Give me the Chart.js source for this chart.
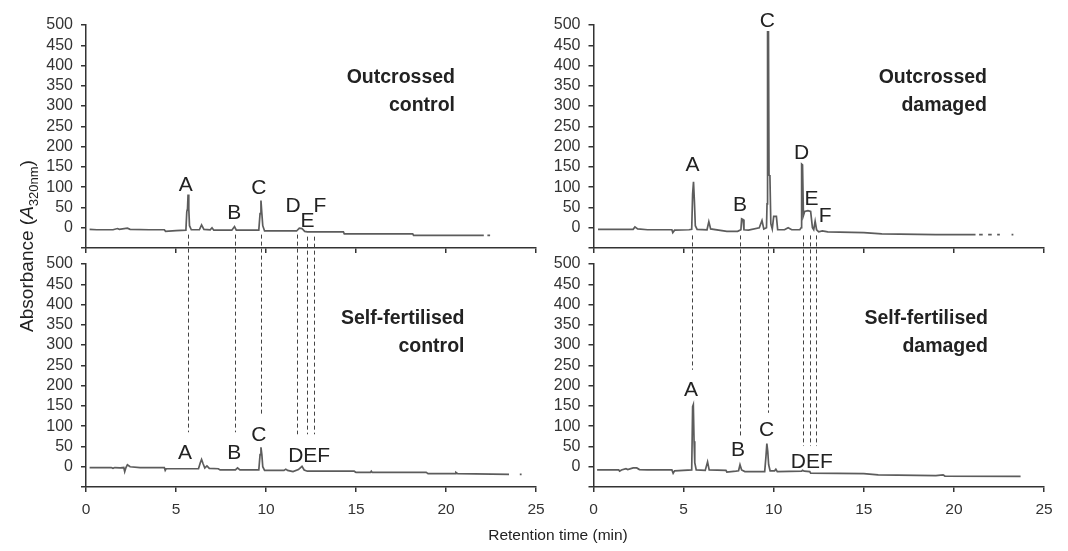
<!DOCTYPE html>
<html>
<head>
<meta charset="utf-8">
<title>HPLC chromatograms</title>
<script src="https://cdn.jsdelivr.net/npm/chart.js@4.4.1/dist/chart.umd.min.js"></script>
<style>
    html, body { margin: 0; padding: 0; background: #fff; }
    #wrap { position: relative; width: 1068px; height: 551px; overflow: hidden; }
    #wrap canvas { position: absolute; left: 0; top: 0; }
</style>
</head>
<body>
<div id="wrap">
    <canvas id="ocControl" width="1068" height="551"></canvas>
    <canvas id="ocDamaged" width="1068" height="551"></canvas>
    <canvas id="sfControl" width="1068" height="551"></canvas>
    <canvas id="sfDamaged" width="1068" height="551"></canvas>
</div>
<script>
// axis ticks
const timeTicks = [0, 5, 10, 15, 20, 25];
const absTicks = [-50, 0, 50, 100, 150, 200, 250, 300, 350, 400, 450, 500];

// Outcrossed control trace (min, A320)
const ocControlTime = [0.2, 0.6, 1.0, 1.5, 1.75, 1.85, 2.3, 2.45, 3.5, 4.35, 4.42, 5.0, 5.55, 5.6, 5.64, 5.67, 5.71, 5.75, 5.85,
    6.3, 6.42, 6.55, 6.9, 7.0, 7.1, 8.1, 8.25, 8.35, 9.3, 9.6, 9.67, 9.72, 9.77, 9.82, 9.92,
    11.7, 11.85, 12.0, 12.15, 12.3, 14.3, 14.35, 18.15, 18.2, 22.1, 22.15, 22.3, 22.45];
const ocControlAbs = [-4, -5, -5, -5, -2, -4, -1, -4, -5, -5, -9, -7, -6, 40, 47, 82, 47, 5, -5,
    -5, 7, -4, -5, 0, -6, -6, 3, -6, -6, -6, 35, 67, 35, 5, -8,
    -8, -1, -2, -9, -10, -10, -15, -15, -19, -19, null, -19, -19];

// Outcrossed damaged trace
const ocDamagedTime = [0.25, 1.5, 2.2, 2.3, 2.45, 3.0, 4.35, 4.4, 4.5, 5.3, 5.45, 5.5, 5.55, 5.6, 5.65, 5.75,
    6.3, 6.4, 6.5, 7.4, 8.0, 8.18, 8.22, 8.3, 8.35, 8.6, 9.2, 9.35, 9.45, 9.6, 9.63, 9.66, 9.71, 9.74, 9.79, 9.84, 9.92,
    10.0, 10.15, 10.22, 10.6, 10.8, 11.0, 11.45, 11.52, 11.55, 11.6, 11.65, 11.72, 11.9, 12.05, 12.15, 12.22, 12.3, 12.38,
    12.5, 12.7, 13.0, 15.0, 16.0, 19.0, 21.2, 21.25, 21.4, 21.6, 21.65, 21.9, 22.1, 22.15, 22.4, 22.55, 22.6, 23.2, 23.3];
const ocDamagedAbs = [-4, -4, -4, 2, -3, -5, -5, -12, -6, -5, -4, 83, 113, 65, 5, -4,
    -5, 15, -3, -9, -9, -5, 22, 20, -5, -6, 0, 18, -3, 0, 59, 483, 483, 130, 128, 10, -3,
    28, 28, -5, -5, 0, -5, -5, 0, 157, 155, 30, 40, 42, 40, 0, -5, 16, -5,
    -10, -8, -10, -12, -15, -17, -17, null, -17, -17, null, -17, -17, null, -17, -17, null, -17, -17];

// Self-fertilised control trace
const sfControlTime = [0.2, 1.4, 1.5, 1.6, 1.9, 2.1, 2.15, 2.22, 2.3, 2.45, 3.0, 4.35, 4.4, 4.45,
    6.25, 6.35, 6.42, 6.5, 6.6, 6.72, 6.85, 7.35, 7.45, 8.3, 8.42, 8.55, 9.6, 9.67, 9.72, 9.77, 9.82, 9.92,
    11.0, 11.1, 11.2, 11.5, 11.8, 12.0, 12.12, 12.3, 14.9, 15.0, 15.8, 15.85, 15.9, 18.9, 19.0,
    20.5, 20.55, 20.65, 23.5, 23.55, 23.8, 23.85, 24.1, 24.2];
const sfControlAbs = [-2, -2, -4, -2, -3, -2, -12, -2, 5, 0, -2, -2, -9, -5,
    -5, 10, 18, 8, -3, 2, -4, -5, -8, -8, -3, -8, -8, 30, 48, 30, 0, -9,
    -9, -6, -9, -12, -7, 1, -8, -11, -11, -14, -14, -11, -14, -14, -17,
    -17, -14, -17, -19, null, -19, null, -19, -19];

// Self-fertilised damaged trace
const sfDamagedTime = [0.2, 1.4, 1.45, 1.55, 1.8, 1.9, 2.2, 2.4, 2.55, 3.0, 4.35, 4.42, 4.5, 5.45, 5.5, 5.54, 5.58, 5.62, 5.7,
    6.2, 6.33, 6.42, 7.35, 7.4, 7.9, 8.05, 8.13, 8.22, 8.4, 9.5, 9.57, 9.62, 9.67, 9.72, 9.8,
    10.05, 10.12, 10.2, 11.55, 11.6, 11.7, 12.0, 12.05, 15.0, 15.8, 19.0, 19.4, 19.5, 23.7];
const sfDamagedAbs = [-8, -8, -11, -8, -5, -7, -3, -3, -7, -8, -8, -16, -10, -8, 148, 153, 63, 10, -8,
    -9, 12, -8, -9, -13, -11, -10, 5, -8, -12, -12, 25, 57, 38, 5, -10,
    -10, -6, -12, -11, -9, -11, -12, -16, -17, -20, -22, -20, -23, -24];

// peak letters (time, absorbance of the letter baseline)
const ocControlPeaks = ['A', 'B', 'C', 'D', 'E', 'F'];
const ocControlPeakTime = [5.54, 8.23, 9.6, 11.5, 12.3, 13.0];
const ocControlPeakAbs = [90, 22, 82, 40, 1, 40];
const ocDamagedPeaks = ['A', 'B', 'C', 'D', 'E', 'F'];
const ocDamagedPeakTime = [5.5, 8.13, 9.65, 11.55, 12.1, 12.85];
const ocDamagedPeakAbs = [139, 42, 494, 169, 55, 14];
const sfControlPeaks = ['A', 'B', 'C', 'DEF'];
const sfControlPeakTime = [5.5, 8.24, 9.6, 12.4];
const sfControlPeakAbs = [20, 18, 63, 12];
const sfDamagedPeaks = ['A', 'B', 'C', 'DEF'];
const sfDamagedPeakTime = [5.41, 8.02, 9.61, 12.11];
const sfDamagedPeakAbs = [174, 26, 75, -2];

// dashed links between upper and lower chromatograms
const controlLinkTime = [5.68, 8.29, 9.7, 11.7, 12.3, 12.67];
const controlLinkFrom = [-17, -17, -17, -17, -22, -22];
const controlLinkTo = [85, 85, 128, 80, 80, 80];
const damagedLinkTime = [5.47, 8.14, 9.7, 11.62, 11.99, 12.37];
const damagedLinkFrom = [-19, -19, -19, -19, -19, -19];
const damagedLinkTo = [239, 75, 133, 51, 51, 51];

const FONT = '"Liberation Sans", Arial, Helvetica, sans-serif';
const TEXT = '#222';
const AXIS = '#333';
const TRACE = '#5c5c5c';
const PAGE_W = 1068, PAGE_H = 551, AXIS_W = 40, XAXIS_H = 40;

const charts = {};

function toPoints(times, values) {
    return times.map((t, i) => ({ x: t, y: values[i] }));
}

function labelPlugin(names, times, abs, title, titleRight, titleTop) {
    return {
        id: 'peakLabels',
        afterDatasetsDraw(chart) {
            const { ctx, chartArea } = chart;
            const x = chart.scales.x, y = chart.scales.y;
            ctx.save();
            ctx.fillStyle = TEXT;
            ctx.textBaseline = 'alphabetic';
            ctx.textAlign = 'center';
            ctx.font = `21px ${FONT}`;
            names.forEach((n, i) => {
                ctx.fillText(n, x.getPixelForValue(times[i]), y.getPixelForValue(abs[i]));
            });
            ctx.textAlign = 'right';
            ctx.font = `bold 19.5px ${FONT}`;
            title.forEach((line, i) => {
                ctx.fillText(line, chartArea.left + titleRight, chartArea.top + titleTop + i * 27.5);
            });
            ctx.restore();
        }
    };
}

function linkPlugin(upperId, times, from, to) {
    return {
        id: 'peakLinks',
        afterDatasetsDraw(chart) {
            const upper = charts[upperId];
            if (!upper) return;
            const ctx = chart.ctx;
            ctx.save();
            ctx.strokeStyle = '#444';
            ctx.lineWidth = 1;
            ctx.setLineDash([4, 3]);
            times.forEach((t, i) => {
                const px = Math.round(chart.scales.x.getPixelForValue(t)) + 0.5;
                ctx.beginPath();
                ctx.moveTo(px, upper.scales.y.getPixelForValue(from[i]));
                ctx.lineTo(px, chart.scales.y.getPixelForValue(to[i]));
                ctx.stroke();
            });
            ctx.restore();
        }
    };
}

const figureTitles = {
    id: 'figureTitles',
    afterDraw(chart) {
        const ctx = chart.ctx;
        ctx.save();
        ctx.fillStyle = TEXT;
        ctx.textBaseline = 'alphabetic';
        ctx.textAlign = 'center';
        ctx.font = `15.5px ${FONT}`;
        ctx.fillText('Retention time (min)', 558, 540);

        // Absorbance (A320nm), rotated
        const parts = [
            { t: 'Absorbance (', f: `19px ${FONT}`, dy: 0 },
            { t: 'A', f: `italic 19px ${FONT}`, dy: 0 },
            { t: '320nm', f: `13px ${FONT}`, dy: 5 },
            { t: ')', f: `19px ${FONT}`, dy: 0 }
        ];
        let total = 0;
        parts.forEach(p => { ctx.font = p.f; p.w = ctx.measureText(p.t).width; total += p.w; });
        ctx.translate(33, 246);
        ctx.rotate(-Math.PI / 2);
        ctx.textAlign = 'left';
        let cx = -total / 2;
        parts.forEach(p => {
            ctx.font = p.f;
            ctx.fillText(p.t, cx, p.dy);
            cx += p.w;
        });
        ctx.restore();
    }
};

function makePanel(id, box, showTime, points, plugins) {
    charts[id] = new Chart(document.getElementById(id), {
        type: 'line',
        data: {
            datasets: [{
                data: points,
                borderColor: TRACE,
                borderWidth: 1.7,
                pointRadius: 0,
                tension: 0,
                spanGaps: false
            }]
        },
        options: {
            responsive: false,
            animation: false,
            events: [],
            layout: {
                padding: {
                    left: box.left - AXIS_W,
                    right: PAGE_W - box.right,
                    top: box.top,
                    bottom: PAGE_H - box.bottom - XAXIS_H
                }
            },
            plugins: { legend: { display: false }, tooltip: { enabled: false } },
            scales: {
                x: {
                    type: 'linear',
                    min: 0,
                    max: 25,
                    afterBuildTicks: s => { s.ticks = timeTicks.map(v => ({ value: v })); },
                    afterFit: s => { s.height = XAXIS_H; },
                    grid: { drawOnChartArea: false, drawTicks: true, tickLength: 5, color: AXIS, lineWidth: 1.5 },
                    border: { display: true, color: AXIS, width: 1.5 },
                    ticks: { display: showTime, autoSkip: false, color: '#333', padding: 8, maxRotation: 0, font: { family: FONT, size: 15.5 } }
                },
                y: {
                    min: -50,
                    max: 500,
                    afterBuildTicks: s => { s.ticks = absTicks.map(v => ({ value: v })); },
                    afterFit: s => { s.width = AXIS_W; },
                    grid: { drawOnChartArea: false, drawTicks: true, tickLength: 5, color: AXIS, lineWidth: 1.5 },
                    border: { display: true, color: AXIS, width: 1.5 },
                    ticks: {
                        autoSkip: false,
                        color: '#333',
                        padding: 8,
                        font: { family: FONT, size: 16 },
                        callback: v => (v < 0 ? '' : String(v))
                    }
                }
            }
        },
        plugins: plugins
    });
}

makePanel('ocControl', { left: 86, right: 536, top: 25, bottom: 248 }, false,
    toPoints(ocControlTime, ocControlAbs),
    [labelPlugin(ocControlPeaks, ocControlPeakTime, ocControlPeakAbs, ['Outcrossed', 'control'], 369, 58)]);

makePanel('ocDamaged', { left: 593.5, right: 1044, top: 25, bottom: 248 }, false,
    toPoints(ocDamagedTime, ocDamagedAbs),
    [labelPlugin(ocDamagedPeaks, ocDamagedPeakTime, ocDamagedPeakAbs, ['Outcrossed', 'damaged'], 393.5, 58)]);

makePanel('sfControl', { left: 86, right: 536, top: 264, bottom: 487 }, true,
    toPoints(sfControlTime, sfControlAbs),
    [labelPlugin(sfControlPeaks, sfControlPeakTime, sfControlPeakAbs, ['Self-fertilised', 'control'], 378.5, 60),
     linkPlugin('ocControl', controlLinkTime, controlLinkFrom, controlLinkTo)]);

makePanel('sfDamaged', { left: 593.5, right: 1044, top: 264, bottom: 487 }, true,
    toPoints(sfDamagedTime, sfDamagedAbs),
    [labelPlugin(sfDamagedPeaks, sfDamagedPeakTime, sfDamagedPeakAbs, ['Self-fertilised', 'damaged'], 394.5, 60),
     linkPlugin('ocDamaged', damagedLinkTime, damagedLinkFrom, damagedLinkTo),
     figureTitles]);
</script>
</body>
</html>
